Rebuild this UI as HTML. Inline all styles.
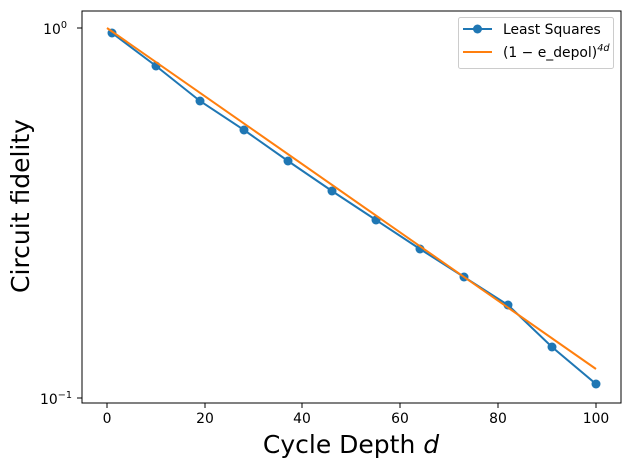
<!DOCTYPE html><html><head><style>body{margin:0;background:#fff}svg{display:block}text{font-family:"DejaVu Sans","Liberation Sans",sans-serif}</style></head><body>
<svg width="630" height="470" viewBox="0 0 630 470" xmlns="http://www.w3.org/2000/svg">
<rect x="82" y="11" width="539" height="392" fill="none" stroke="#000" stroke-width="1"/>
<g stroke="#000"><line x1="77" y1="28" x2="82" y2="28"/><line x1="77" y1="398" x2="82" y2="398"/>
<line x1="107" y1="403" x2="107" y2="408"/><line x1="205" y1="403" x2="205" y2="408"/><line x1="302" y1="403" x2="302" y2="408"/><line x1="400" y1="403" x2="400" y2="408"/><line x1="498" y1="403" x2="498" y2="408"/><line x1="596" y1="403" x2="596" y2="408"/></g>
<g font-size="13.9" text-anchor="middle" fill="#000"><text x="107" y="423">0</text><text x="205" y="423">20</text><text x="302" y="423">40</text><text x="400" y="423">60</text><text x="498" y="423">80</text><text x="596" y="423">100</text></g>
<g font-size="13.9" text-anchor="end"><text x="67" y="34">10<tspan font-size="9.7" dy="-6">0</tspan></text><text x="72" y="404">10<tspan font-size="9.7" dy="-6">−1</tspan></text></g>
<text x="351" y="453" font-size="25" text-anchor="middle">Cycle Depth <tspan font-style="italic">d</tspan></text>
<text transform="translate(29,206) rotate(-90)" font-size="25" text-anchor="middle">Circuit fidelity</text>
<polyline fill="none" stroke="#1f77b4" stroke-width="2" points="112,33 156,66 200,101 244,130 288,161 332,191 376,220 420,249 464,277 508,305 552,347 596,384"/>
<g fill="#1f77b4"><circle cx="112" cy="33" r="4.5"/><circle cx="156" cy="66" r="4.5"/><circle cx="200" cy="101" r="4.5"/><circle cx="244" cy="130" r="4.5"/><circle cx="288" cy="161" r="4.5"/><circle cx="332" cy="191" r="4.5"/><circle cx="376" cy="220" r="4.5"/><circle cx="420" cy="249" r="4.5"/><circle cx="464" cy="277" r="4.5"/><circle cx="508" cy="305" r="4.5"/><circle cx="552" cy="347" r="4.5"/><circle cx="596" cy="384" r="4.5"/></g>
<line x1="107" y1="28" x2="596" y2="369" stroke="#ff7f0e" stroke-width="2"/>
<rect x="458.5" y="17.5" width="155" height="51" rx="2" fill="#fff" fill-opacity="0.8" stroke="#ccc"/>
<line x1="463" y1="29" x2="492" y2="29" stroke="#1f77b4" stroke-width="2"/><circle cx="477.5" cy="29" r="4.5" fill="#1f77b4"/>
<text x="503" y="34" font-size="13.9">Least Squares</text>
<line x1="463" y1="52" x2="492" y2="52" stroke="#ff7f0e" stroke-width="2"/>
<text x="503" y="57" font-size="13.9">(1 − e_depol)<tspan font-size="9.7" dy="-6" font-style="italic">4d</tspan></text>
</svg></body></html>
